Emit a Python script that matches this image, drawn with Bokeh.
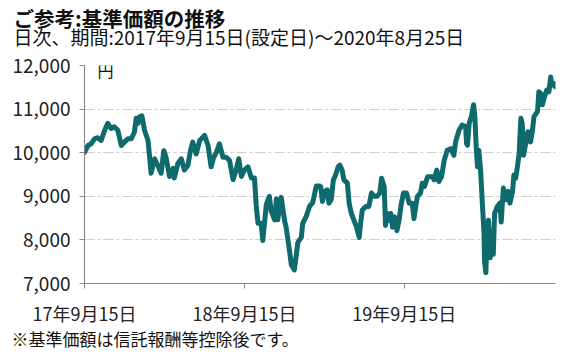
from bokeh.plotting import figure
from bokeh.models import Label, FixedTicker, NumeralTickFormatter, Range1d, Title
from bokeh.embed import file_html
from bokeh.resources import INLINE

# ---- data ----
days_since_launch = [
    0, 8, 15, 23, 30, 38, 46, 53, 61, 68, 76, 84, 91, 99, 107, 114, 118, 122, 126, 131,
    137, 145, 152, 160, 167, 175, 181, 186, 194, 202, 205, 213, 221, 228, 236, 242, 247, 255, 263, 274,
    282, 289, 295, 301, 308, 316, 323, 331, 339, 346, 352, 358, 365, 373, 381, 388, 392, 396, 403, 407,
    415, 422, 426, 434, 438, 441, 449, 457, 460, 468, 472, 479, 487, 495, 498, 506, 514, 521, 529, 537,
    539, 543, 548, 554, 558, 563, 568, 573, 579, 583, 588, 592, 600, 604, 609, 615, 621, 627, 630, 634,
    642, 649, 655, 661, 668, 674, 678, 684, 687, 691, 695, 699, 703, 708, 713, 718, 722, 728, 735, 741,
    748, 752, 756, 760, 767, 771, 776, 783, 794, 798, 804, 809, 815, 821, 828, 836, 843, 847, 855, 862,
    870, 872, 874, 878, 883, 888, 891, 894, 897, 900, 904, 908, 912, 913, 916, 919, 922, 926, 929, 933,
    936, 942, 948, 951, 956, 961, 967, 971, 977, 980, 984, 988, 992, 996, 999, 1002, 1007, 1012, 1018, 1022,
    1026, 1034, 1037, 1041, 1045, 1050, 1055, 1060, 1064, 1067, 1072, 1075,
]
nav = [
    10008, 10164, 10203, 10320, 10344, 10281, 10516, 10672, 10555, 10594,
    10516, 10164, 10242, 10320, 10320, 10477, 10789, 10672, 10828, 10844,
    10516, 10281, 9529, 9860, 9713, 9529, 10047, 9897, 9456, 9640,
    9419, 9750, 9860, 9603, 9713, 10047, 10242, 9971, 10281, 10398,
    10164, 9676, 9897, 10008, 10203, 9897, 9897, 9824, 9382, 9603,
    9860, 9456, 9603, 9676, 9419, 9419, 8778, 8381, 8381, 7984,
    8817, 9000, 8659, 8460, 8937, 8460, 8976, 8421, 8302, 7746,
    7429, 7310, 7944, 8063, 8381, 8540, 8778, 8857, 9235, 9235,
    9226, 8882, 9113, 9150, 8843, 8921, 9376, 9489, 9677, 9714,
    9602, 9376, 9301, 8843, 8606, 8449, 8291, 8055, 8370, 8685,
    8764, 8764, 9075, 9000, 9000, 9075, 9414, 9226, 8331, 8606,
    8449, 8606, 8291, 8528, 8213, 8449, 8764, 9075, 9075, 8843,
    8843, 8488, 8764, 9000, 9075, 9301, 9226, 9451, 9451, 9376,
    9602, 9338, 9451, 9827, 10054, 10093, 9940, 10248, 10519, 10636,
    10597, 10209, 10171, 10674, 10829, 11098, 10829, 10132, 9677, 10054,
    9602, 8843, 8134, 7515, 7250, 8134, 8449, 7592, 8213, 7669,
    8606, 8764, 8843, 8409, 9188, 8921, 9113, 8843, 9113, 9489,
    9414, 9677, 9977, 10791, 10674, 9940, 10209, 10481, 10248, 10481,
    10829, 10946, 11398, 11361, 11098, 11286, 11436, 11398, 11737, 11549,
    11586, 11511,
]
x_tick_days = [0, 365, 730]
x_tick_labels = ["17年9月15日", "18年9月15日", "19年9月15日"]
y_ticks = [7000, 8000, 9000, 10000, 11000, 12000]

title_text = "ご参考:基準価額の推移"
subtitle_text = "日次、期間:2017年9月15日(設定日)〜2020年8月25日"
unit_text = "円"
note_text = "※基準価額は信託報酬等控除後です。"

FONT = "Noto Sans CJK JP"
TXT = "#222222"

p = figure(width=579, height=352, output_backend="svg", toolbar_location=None,
           title=None, x_range=Range1d(0, 1075), y_range=Range1d(7000, 12000),
           min_border_left=84, min_border_right=24, min_border_top=65, min_border_bottom=69)
p.outline_line_color = None
p.background_fill_color = "white"
p.border_fill_color = "white"

p.line(days_since_launch, nav, line_color="#0e6a6c", line_width=5,
       line_join="round", line_cap="round")

# axes
for ax in (p.xaxis[0], p.yaxis[0]):
    ax.axis_line_color = "#8a8a8a"
    ax.axis_line_width = 1.2
    ax.major_tick_line_color = "#8a8a8a"
    ax.major_tick_in = 0
    ax.major_tick_out = 5
    ax.minor_tick_line_color = None
    ax.major_label_text_font = FONT
    ax.major_label_text_color = TXT

p.xaxis.ticker = FixedTicker(ticks=x_tick_days)
p.xaxis.major_label_overrides = {d: s for d, s in zip(x_tick_days, x_tick_labels)}
p.xaxis.major_label_text_font_size = "18px"
p.xaxis.major_label_standoff = 11

p.yaxis.ticker = FixedTicker(ticks=y_ticks)
p.yaxis.formatter = NumeralTickFormatter(format="0,0")
p.yaxis.major_label_text_font_size = "19px"
p.yaxis.major_label_standoff = 9

p.xgrid.grid_line_color = None
p.ygrid.ticker = FixedTicker(ticks=y_ticks)
p.ygrid.grid_line_color = "#cfcfcf"
p.ygrid.grid_line_width = 1.2
p.ygrid.grid_line_dash = "10 3 3 3"

# titles (above panel: first added is nearest to the frame)
p.add_layout(Title(text=subtitle_text, text_font=FONT, text_font_size="19px",
                   text_font_style="normal", text_color="#111111", align="left",
                   offset=-71, standoff=32), "above")
p.add_layout(Title(text=title_text, text_font=FONT, text_font_size="20.5px",
                   text_font_style="bold", text_color="#111111", align="left",
                   offset=-71, standoff=-57), "above")
p.add_layout(Title(text=note_text, text_font=FONT, text_font_size="17px",
                   text_font_style="normal", text_color="#111111", align="left",
                   offset=-73, standoff=-10), "below")

p.add_layout(Label(x=13, y=226, x_units="screen", y_units="screen", text=unit_text,
                   text_font=FONT, text_font_size="16px", text_color="#111111",
                   text_baseline="top"))

open("out.html", "w").write(file_html(p, INLINE))
